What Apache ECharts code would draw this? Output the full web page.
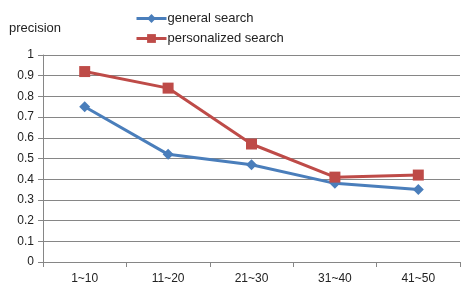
<!DOCTYPE html>
<html>
<head>
<meta charset="utf-8">
<script src="https://cdn.jsdelivr.net/npm/echarts@6/dist/echarts.min.js"></script>
<style>
  html, body { margin: 0; padding: 0; background: #fff; }
  #chart { width: 463px; height: 290px; }
</style>
</head>
<body>
<div id="chart"></div>
<script>
// categories and values
var categories = ['1~10', '11~20', '21~30', '31~40', '41~50'];
var generalSearch = [0.75, 0.52, 0.47, 0.38, 0.35];
var personalizedSearch = [0.92, 0.84, 0.57, 0.41, 0.42];

var font = 'Liberation Sans, Arial, sans-serif';
var chart = echarts.init(document.getElementById('chart'));

chart.setOption({
  animation: false,
  textStyle: { fontFamily: font },
  legend: {
    orient: 'vertical',
    left: 130,
    top: 7,
    itemWidth: 30,
    itemHeight: 11,
    itemGap: 7,
    lineStyle: { width: 3 },
    textStyle: { fontSize: 13, color: '#222', fontFamily: font, padding: [0, 0, 0, -4] },
    data: ['general search', 'personalized search']
  },
  grid: { left: 43, right: 3, top: 55, bottom: 28 },
  xAxis: {
    type: 'category',
    data: categories,
    boundaryGap: true,
    axisLine: { lineStyle: { color: '#868686', width: 1 } },
    axisTick: { show: true, alignWithLabel: false, length: 5, lineStyle: { color: '#868686' } },
    axisLabel: { color: '#222', fontSize: 12, margin: 11, fontFamily: font }
  },
  yAxis: {
    type: 'value',
    min: 0,
    max: 1,
    interval: 0.1,
    name: 'precision',
    nameLocation: 'end',
    nameGap: 20,
    nameTextStyle: { color: '#222', fontSize: 13, align: 'left', padding: [0, 0, 0, -34] },
    axisLine: { show: true, lineStyle: { color: '#868686' } },
    axisTick: { show: true, length: 5, lineStyle: { color: '#868686' } },
    splitLine: { lineStyle: { color: '#868686', width: 1 } },
    axisLabel: {
      color: '#222', fontSize: 12, margin: 9, fontFamily: font,
      formatter: function (v) { return String(Math.round(v * 10) / 10); }
    }
  },
  series: [
    {
      name: 'general search',
      type: 'line',
      data: generalSearch,
      symbol: 'diamond',
      symbolSize: 11,
      lineStyle: { width: 3, color: '#4a7ebb' },
      itemStyle: { color: '#4a7ebb' }
    },
    {
      name: 'personalized search',
      type: 'line',
      data: personalizedSearch,
      symbol: 'rect',
      symbolSize: 11,
      lineStyle: { width: 3, color: '#be4b48' },
      itemStyle: { color: '#be4b48' }
    }
  ]
});
</script>
</body>
</html>
